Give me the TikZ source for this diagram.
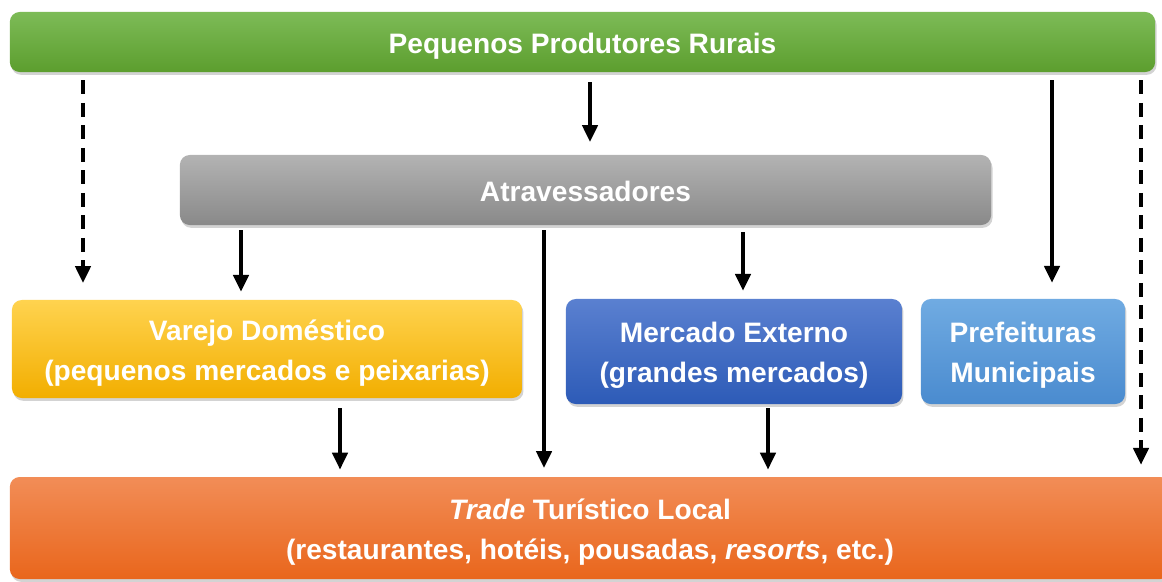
\documentclass[tikz,border=0pt]{standalone}
\usepackage{fontspec}
\setmainfont{Liberation Sans}
\usetikzlibrary{arrows.meta,shadows}
\definecolor{greenTop}{HTML}{7DBB57}
\definecolor{greenBot}{HTML}{5C9E2E}
\definecolor{grayTop}{HTML}{B3B3B3}
\definecolor{grayBot}{HTML}{898989}
\definecolor{yellowTop}{HTML}{FFD34F}
\definecolor{yellowBot}{HTML}{F2AE00}
\definecolor{blueTop}{HTML}{5A80D0}
\definecolor{blueBot}{HTML}{2D5BB7}
\definecolor{skyTop}{HTML}{70ABE2}
\definecolor{skyBot}{HTML}{4A8BCF}
\definecolor{orangeTop}{HTML}{F28D57}
\definecolor{orangeBot}{HTML}{E9661C}
\tikzset{
  box/.style={rounded corners=7pt, align=center, text=white, inner sep=0pt,
    font=\bfseries\fontsize{20}{28.5}\selectfont, text depth=4.5pt,
    drop shadow={shadow xshift=1pt, shadow yshift=-2pt, opacity=0.35}},
  oneline/.style={box, text height=20.5pt},
  twoline/.style={box, text height=49pt},
  flow/.style={line width=2.3pt, -{Triangle[width=11pt,length=12pt]}},
  maybe/.style={flow, dash pattern=on 10pt off 6pt}
}
\begin{document}
\begin{tikzpicture}[x=0.025cm,y=-0.025cm]
  \useasboundingbox (0,0) rectangle (1162,581);
  \node[oneline, top color=greenTop, bottom color=greenBot, minimum width=28.625cm, minimum height=1.5cm]   (prod) at (582.5,42)  {Pequenos Produtores Rurais};
  \node[oneline, top color=grayTop, bottom color=grayBot, minimum width=20.275cm, minimum height=1.75cm]    (atrav) at (585.5,190) {Atravessadores};
  \node[twoline, top color=yellowTop, bottom color=yellowBot, minimum width=12.75cm, minimum height=2.45cm] (varejo) at (267,349) {Varejo Doméstico\\(pequenos mercados e peixarias)};
  \node[twoline, top color=blueTop, bottom color=blueBot, minimum width=8.4cm, minimum height=2.625cm]      (externo) at (734,351.5) {Mercado Externo\\(grandes mercados)};
  \node[twoline, top color=skyTop, bottom color=skyBot, minimum width=5.1cm, minimum height=2.625cm]        (pref) at (1023,351.5) {Prefeituras\\Municipais};
  \node[twoline, top color=orangeTop, bottom color=orangeBot, minimum width=29cm, minimum height=2.55cm]     (trade) at (590,528) {\textit{Trade} Turístico Local\\(restaurantes, hotéis, pousadas, \textit{resorts}, etc.)};

  \draw[maybe, shorten <=0.2cm, shorten >=0.42cm] (prod.south -| 83,0) -- (varejo.north -| 83,0);
  \draw[flow, shorten <=0.25cm, shorten >=0.32cm] (prod.south -| 590,0) -- (atrav.north -| 590,0);
  \draw[flow, shorten <=0.2cm, shorten >=0.4cm] (prod.south -| 1052,0) -- (pref.north -| 1052,0);
  \draw[maybe, shorten <=0.2cm, shorten >=0.3cm] (prod.south -| 1141,0) -- (trade.north -| 1141,0);

  \draw[flow, shorten <=0.12cm, shorten >=0.2cm] (atrav.south -| 241,0) -- (varejo.north -| 241,0);
  \draw[flow, shorten <=0.12cm, shorten >=0.22cm] (atrav.south -| 544,0) -- (trade.north -| 544,0);
  \draw[flow, shorten <=0.17cm, shorten >=0.2cm] (atrav.south -| 743,0) -- (externo.north -| 743,0);

  \draw[flow, shorten <=0.25cm, shorten >=0.18cm] (varejo.south -| 340,0) -- (trade.north -| 340,0);
  \draw[flow, shorten <=0.1cm, shorten >=0.18cm] (externo.south -| 768,0) -- (trade.north -| 768,0);
\end{tikzpicture}
\end{document}
